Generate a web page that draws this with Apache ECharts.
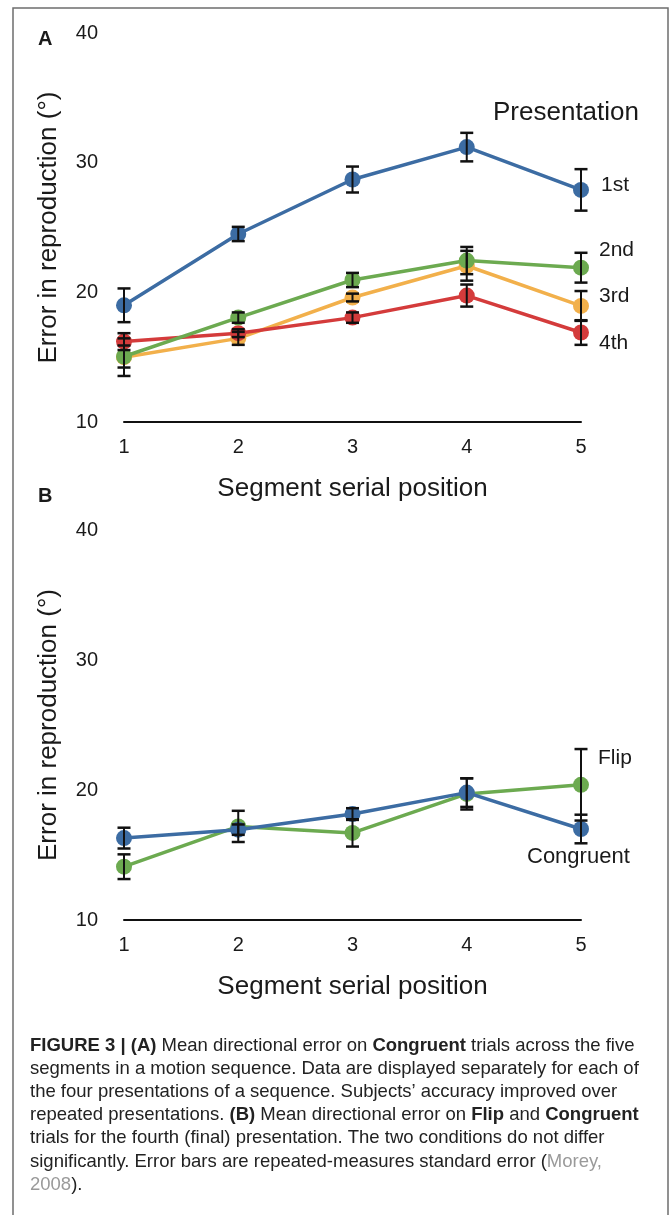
<!DOCTYPE html>
<html>
<head>
<meta charset="utf-8">
<script src="https://cdn.jsdelivr.net/npm/echarts@6/dist/echarts.min.js"></script>
<style>
  html, body { margin: 0; padding: 0; background: #fff; }
  #fig { width: 671px; height: 1215px; }
</style>
</head>
<body>
<div id="fig"></div>
<script>
// segment serial positions (x axis)
var positions = [1, 2, 3, 4, 5];
var yTicks = [10, 20, 30, 40];

// panel A: congruent trials, per presentation
var first = [19.0, 24.5, 28.7, 31.2, 27.9];
var firstErr = [1.3, 0.55, 1.0, 1.1, 1.6];
var second = [15.05, 18.05, 20.95, 22.45, 21.9];
var secondErr = [0.85, 0.4, 0.55, 1.05, 1.15];
var third = [15.0, 16.45, 19.6, 22.05, 18.95];
var thirdErr = [1.45, 0.5, 0.3, 1.15, 1.15];
var fourth = [16.2, 16.85, 18.05, 19.75, 16.9];
var fourthErr = [0.65, 0.3, 0.4, 0.85, 0.95];

// panel B: fourth presentation, flip vs congruent
var flip = [14.1, 17.2, 16.7, 19.7, 20.4];
var flipErr = [0.95, 1.2, 1.05, 1.2, 2.75];
var congruent = [16.3, 16.95, 18.15, 19.8, 17.0];
var congruentErr = [0.8, 0.4, 0.45, 1.1, 1.1];

var BLUE = '#3c6ca3', GREEN = '#6caa50', ORANGE = '#f2b04b', RED = '#d43b3b';
var FONT = '"Liberation Sans", Arial, sans-serif';
var TXT = '#1a1a1a';

var myChart = echarts.init(document.getElementById('fig'));

function xAxisFor(idx) {
  return {
    gridIndex: idx, type: 'value', min: 1, max: 5, interval: 1,
    name: 'Segment serial position', nameLocation: 'middle', nameGap: 54,
    nameTextStyle: { fontFamily: FONT, fontSize: 26, color: TXT },
    axisLine: { show: true, lineStyle: { color: '#111', width: 2 } },
    axisTick: { show: false },
    splitLine: { show: false },
    axisLabel: { fontFamily: FONT, fontSize: 20, color: TXT, margin: 15 }
  };
}
function yAxisFor(idx) {
  return {
    gridIndex: idx, type: 'value', min: yTicks[0], max: yTicks[yTicks.length - 1], interval: 10,
    name: 'Error in reproduction (°)', nameLocation: 'middle', nameGap: 62,
    nameTextStyle: { fontFamily: FONT, fontSize: 26, color: TXT },
    axisLine: { show: false }, axisTick: { show: false }, splitLine: { show: false },
    axisLabel: { fontFamily: FONT, fontSize: 20, color: TXT, margin: 26 }
  };
}

function lineSeries(idx, name, vals, color, z) {
  return {
    name: name, type: 'line', xAxisIndex: idx, yAxisIndex: idx,
    data: positions.map(function (x, i) { return [x, vals[i]]; }),
    symbol: 'circle', symbolSize: 16, z: z,
    lineStyle: { color: color, width: 3.5 },
    itemStyle: { color: color },
    emphasis: { disabled: true }
  };
}

function errSeries(idx, vals, errs) {
  return {
    type: 'custom', xAxisIndex: idx, yAxisIndex: idx, z: 20,
    data: positions.map(function (x, i) { return [x, vals[i], errs[i]]; }),
    renderItem: function (params, api) {
      var x = api.value(0), y = api.value(1), e = api.value(2);
      var hi = api.coord([x, y + e]);
      var lo = api.coord([x, y - e]);
      var w = 6.5;
      var cap = { stroke: '#111', lineWidth: 2.5 };
      return {
        type: 'group',
        children: [
          { type: 'line', shape: { x1: hi[0], y1: hi[1], x2: lo[0], y2: lo[1] }, style: { stroke: '#111', lineWidth: 2 } },
          { type: 'line', shape: { x1: hi[0] - w, y1: hi[1], x2: hi[0] + w, y2: hi[1] }, style: cap },
          { type: 'line', shape: { x1: lo[0] - w, y1: lo[1], x2: lo[0] + w, y2: lo[1] }, style: cap }
        ]
      };
    }
  };
}

function label(text, x, y, size, weight) {
  return {
    type: 'text', left: x, top: y,
    style: { text: text, fontFamily: FONT, fontSize: size, fontWeight: weight || 'normal', fill: TXT }
  };
}

var captionLines = [
  '{b|FIGURE 3 | (A)}{n| Mean directional error on }{b|Congruent}{n| trials across the five}',
  '{n|segments in a motion sequence. Data are displayed separately for each of}',
  '{n|the four presentations of a sequence. Subjects’ accuracy improved over}',
  '{n|repeated presentations. }{b|(B)}{n| Mean directional error on }{b|Flip}{n| and }{b|Congruent}',
  '{n|trials for the fourth (final) presentation. The two conditions do not differ}',
  '{n|significantly. Error bars are repeated-measures standard error (}{g|Morey,}',
  '{g|2008}{n|).}'
];
var CAP = 18.5;
var capRich = {
  n: { fontFamily: FONT, fontSize: CAP, fill: '#222' },
  b: { fontFamily: FONT, fontSize: CAP, fontWeight: 'bold', fill: '#222' },
  g: { fontFamily: FONT, fontSize: CAP, fill: '#9a9a9a' }
};

var graphics = [
  { type: 'rect', shape: { x: 13, y: 8, width: 655, height: 1230 }, style: { fill: 'none', stroke: '#6e6e6e', lineWidth: 1.5 }, silent: true },
  label('A', 38, 29, 20, 'bold'),
  label('B', 38, 486, 20, 'bold'),
  label('Presentation', 493, 100, 26),
  label('1st', 601, 175, 21),
  label('2nd', 599, 240, 21),
  label('3rd', 599, 286, 21),
  label('4th', 599, 333, 21),
  label('Flip', 598, 748, 21),
  label('Congruent', 527, 846, 22)
];
captionLines.forEach(function (t, i) {
  graphics.push({
    type: 'text', left: 30, top: 1036 + i * 23.2,
    style: { text: t, rich: capRich, fontFamily: FONT, fontSize: CAP }
  });
});

var option = {
  animation: false,
  backgroundColor: '#fff',
  grid: [
    { left: 124, top: 33, width: 457, height: 389 },
    { left: 124, top: 530, width: 457, height: 390 }
  ],
  xAxis: [xAxisFor(0), xAxisFor(1)],
  yAxis: [yAxisFor(0), yAxisFor(1)],
  series: [
    lineSeries(0, '3rd', third, ORANGE, 2),
    lineSeries(0, '4th', fourth, RED, 3),
    lineSeries(0, '2nd', second, GREEN, 4),
    lineSeries(0, '1st', first, BLUE, 5),
    errSeries(0, third, thirdErr),
    errSeries(0, fourth, fourthErr),
    errSeries(0, second, secondErr),
    errSeries(0, first, firstErr),
    lineSeries(1, 'Flip', flip, GREEN, 2),
    lineSeries(1, 'Congruent', congruent, BLUE, 3),
    errSeries(1, flip, flipErr),
    errSeries(1, congruent, congruentErr)
  ],
  graphic: graphics
};

myChart.setOption(option);
</script>
</body>
</html>
